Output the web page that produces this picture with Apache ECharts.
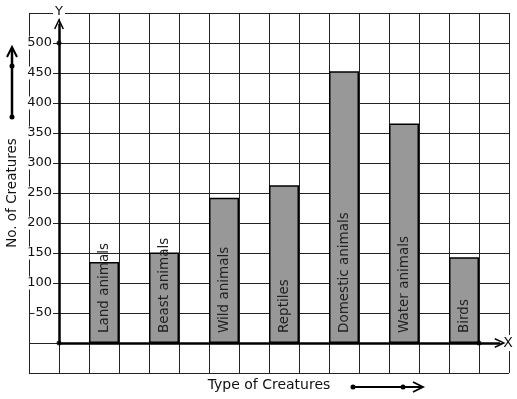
<!DOCTYPE html>
<html>
<head>
<meta charset="utf-8">
<script src="https://cdn.jsdelivr.net/npm/echarts@6/dist/echarts.min.js"></script>
<style>
  html, body { margin: 0; padding: 0; background: #fff; }
  #chart-area { width: 517px; height: 399px; }
</style>
</head>
<body>
<div id="chart-area"></div>
<script>
// data
const categories = ['Land animals', 'Beast animals', 'Wild animals', 'Reptiles', 'Domestic animals', 'Water animals', 'Birds'];
const counts = [135, 151, 242, 263, 453, 366, 143];
const yMin = -50, yMax = 550, yStep = 50;
const tickLabels = [50, 100, 150, 200, 250, 300, 350, 400, 450, 500];
const dots = [[0, 500], [0, 0], [14, 0]];

// every other grid column holds a bar, 16 columns in all
const slots = [];
const values = [];
for (let i = 0; i < 16; i++) { slots.push(''); values.push('-'); }
categories.forEach((c, i) => { slots[2 + 2 * i] = c; values[2 + 2 * i] = counts[i]; });

const font = 'DejaVu Sans';
const ink = '#111';
// open arrow head, tip pointing up
const chevron = 'path://M0,10 L5,0 L10,10 L8.6,10.6 L5,3 L1.4,10.6 Z';

const myChart = echarts.init(document.getElementById('chart-area'));
const option = {
  animation: false,
  textStyle: { fontFamily: font, color: ink },
  grid: { left: 29, top: 13, width: 480, height: 360, outerBoundsMode: 'none', containLabel: false },
  xAxis: [
    {
      type: 'category',
      data: slots,
      axisLine: { show: false, onZero: true },
      axisTick: { show: false },
      axisLabel: { show: false },
      splitLine: { show: true, interval: 0, lineStyle: { color: '#222', width: 1 } },
      name: 'X',
      nameLocation: 'end',
      nameGap: -1,
      nameTextStyle: { fontFamily: font, fontSize: 14, color: ink, align: 'center', verticalAlign: 'middle', backgroundColor: '#fff', padding: [1, 1] }
    },
    {
      // hidden value scale, used for the axis arrows and dots
      type: 'value',
      min: -1,
      max: 15,
      position: 'bottom',
      axisLine: { show: false },
      axisTick: { show: false },
      axisLabel: { show: false },
      splitLine: { show: false },
      name: 'Type of Creatures',
      nameLocation: 'middle',
      nameGap: 5,
      nameTextStyle: { fontFamily: font, fontSize: 14, color: ink, verticalAlign: 'top' }
    }
  ],
  yAxis: [
    {
      type: 'value',
      min: yMin,
      max: yMax,
      interval: yStep,
      axisLine: { show: false },
      axisTick: { show: false },
      axisLabel: { show: false },
      splitLine: { show: true, lineStyle: { color: '#222', width: 1 } },
      name: 'No. of Creatures',
      nameLocation: 'middle',
      nameRotate: 90,
      nameGap: 10,
      nameTextStyle: { fontFamily: font, fontSize: 13.5, color: ink }
    },
    {
      type: 'value',
      min: yMin,
      max: yMax,
      interval: yStep,
      position: 'left',
      offset: -30,
      z: 5,
      axisLine: { show: false },
      axisTick: { show: false },
      splitLine: { show: false },
      axisLabel: {
        margin: 6,
        fontFamily: font,
        fontSize: 13,
        color: ink,
        backgroundColor: '#fff',
        padding: [0, 1, 0, 1],
        formatter: (v) => tickLabels.includes(v) ? String(v) : ''
      },
      name: 'Y',
      nameLocation: 'end',
      nameGap: 1,
      nameTextStyle: { fontFamily: font, fontSize: 13, color: ink, align: 'center', verticalAlign: 'middle', backgroundColor: '#fff', padding: [0, 2] }
    }
  ],
  series: [
    {
      type: 'bar',
      data: values,
      barWidth: '100%',
      itemStyle: { color: '#989898', borderColor: '#000', borderWidth: 1.5 },
      label: {
        show: true,
        position: 'insideBottom',
        distance: 10,
        rotate: 90,
        align: 'left',
        verticalAlign: 'middle',
        fontFamily: font,
        fontSize: 13.5,
        color: '#222',
        formatter: '{b}'
      }
    },
    {
      type: 'scatter',
      xAxisIndex: 1,
      yAxisIndex: 0,
      z: 6,
      symbol: 'circle',
      symbolSize: 5,
      itemStyle: { color: '#000' },
      data: dots,
      markLine: {
        silent: true,
        symbol: ['none', chevron],
        symbolSize: [10, 11],
        label: { show: false },
        lineStyle: { color: '#000', width: 2.5, type: 'solid' },
        data: [
          [{ coord: [0, 0] }, { coord: [0, 532] }],
          [{ coord: [0, 0] }, { coord: [14.7, 0] }]
        ]
      }
    }
  ],
  graphic: [
    { type: 'polyline', shape: { points: [[12, 117], [12, 48]] }, style: { stroke: '#000', lineWidth: 2.5 } },
    { type: 'polyline', shape: { points: [[7, 57], [12, 47], [17, 57]] }, style: { stroke: '#000', lineWidth: 2, fill: null } },
    { type: 'circle', shape: { cx: 12, cy: 66, r: 2.5 }, style: { fill: '#000' } },
    { type: 'circle', shape: { cx: 12, cy: 117, r: 2.5 }, style: { fill: '#000' } },
    { type: 'polyline', shape: { points: [[353, 387], [422, 387]] }, style: { stroke: '#000', lineWidth: 2 } },
    { type: 'polyline', shape: { points: [[413, 382], [423, 387], [413, 392]] }, style: { stroke: '#000', lineWidth: 1.8, fill: null } },
    { type: 'circle', shape: { cx: 353, cy: 387, r: 2.5 }, style: { fill: '#000' } },
    { type: 'circle', shape: { cx: 403, cy: 387, r: 2.5 }, style: { fill: '#000' } }
  ]
};
option && myChart.setOption(option);
</script>
</body>
</html>
